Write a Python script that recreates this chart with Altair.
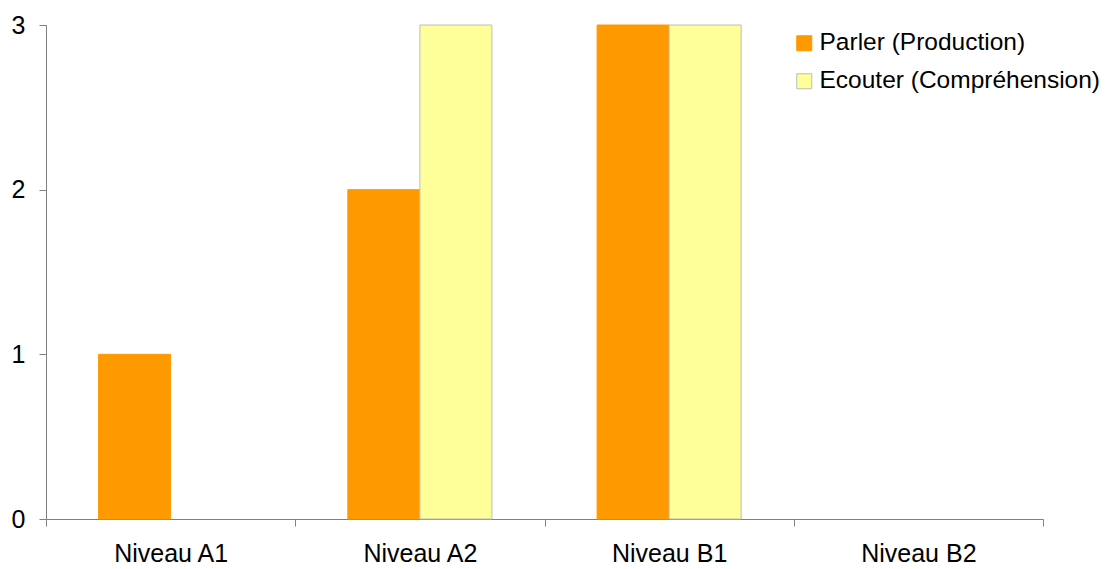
import altair as alt
import pandas as pd

categories = ["Niveau A1", "Niveau A2", "Niveau B1", "Niveau B2"]
series = ["Parler (Production)", "Ecouter (Compréhension)"]
parler = [1, 2, 3, 0]
ecouter = [0, 3, 3, 0]
colors = ["#FF9900", "#FFFF99"]
strokes = ["#FF9900", "#BDBDBD"]

rows = []
for c, p, e in zip(categories, parler, ecouter):
    rows.append({"cat": c, "series": series[0], "value": p})
    rows.append({"cat": c, "series": series[1], "value": e})
df = pd.DataFrame(rows)

FONT = "Liberation Sans"


def legend():
    return alt.Legend(
        title=None,
        orient="none",
        legendX=746,
        legendY=6,
        symbolType="square",
        symbolSize=225,
        symbolStrokeWidth=1,
        labelFontSize=24.5,
        labelFont=FONT,
        labelColor="#000000",
        labelOffset=3,
        labelLimit=500,
        rowPadding=13,
        padding=0,
    )


chart = (
    alt.Chart(df)
    .transform_filter("datum.value > 0")
    .mark_bar(strokeWidth=1)
    .encode(
        x=alt.X(
            "cat:N",
            sort=categories,
            scale=alt.Scale(domain=categories, paddingInner=0, paddingOuter=0),
            axis=alt.Axis(
                title=None,
                labelAngle=0,
                tickBand="extent",
                tickSize=7,
                labelPadding=15,
                domainColor="#808080",
                tickColor="#808080",
                labelFontSize=25,
                labelFont=FONT,
                labelColor="#000000",
            ),
        ),
        xOffset=alt.XOffset(
            "series:N",
            sort=series,
            scale=alt.Scale(domain=series, paddingInner=0, paddingOuter=0.73),
        ),
        y=alt.Y(
            "value:Q",
            scale=alt.Scale(domain=[0, 3], nice=False),
            axis=alt.Axis(
                title=None,
                values=[0, 1, 2, 3],
                format="d",
                grid=False,
                tickSize=7,
                labelPadding=14,
                domainColor="#808080",
                tickColor="#808080",
                labelFontSize=25,
                labelFont=FONT,
                labelColor="#000000",
            ),
        ),
        color=alt.Color(
            "series:N",
            sort=series,
            scale=alt.Scale(domain=series, range=colors),
            legend=legend(),
        ),
        stroke=alt.Stroke(
            "series:N",
            sort=series,
            scale=alt.Scale(domain=series, range=strokes),
            legend=legend(),
        ),
    )
    .properties(
        width=997,
        height=494,
        background="#FFFFFF",
        autosize=alt.AutoSizeParams(type="none"),
        padding={"left": 38, "top": 17, "right": 64, "bottom": 50},
    )
    .configure_view(strokeWidth=0, stroke="transparent")
)

chart.save("out.html", embed_options={"renderer": "svg", "actions": False})
